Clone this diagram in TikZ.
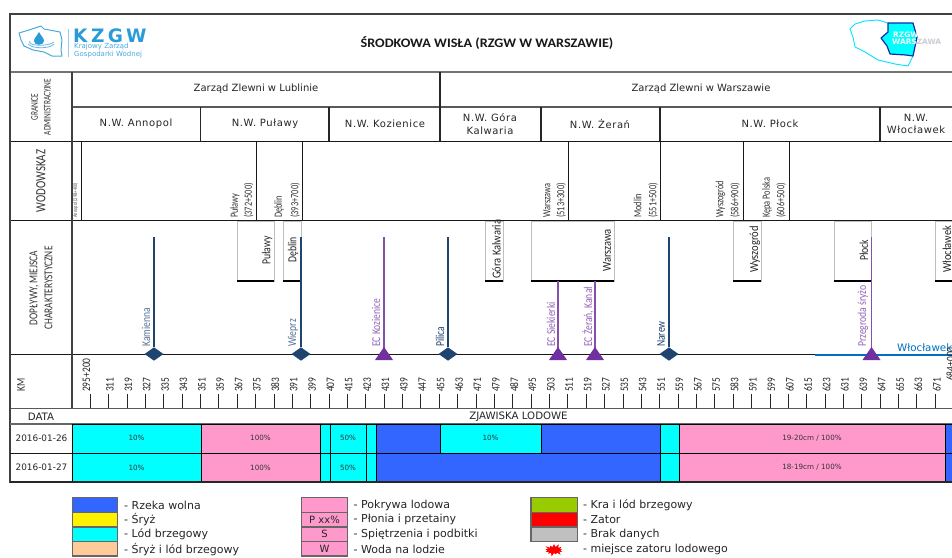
\documentclass[tikz,border=0pt]{standalone}
\usepackage{fontspec}
\setmainfont{DejaVu Sans}
\newfontfamily\narrowf{Carlito}
\usetikzlibrary{shapes.geometric,shapes.symbols}
\definecolor{cyanc}{HTML}{00FFFF}
\definecolor{pinkc}{HTML}{FF99CC}
\definecolor{bluec}{HTML}{3366FF}
\definecolor{peachc}{HTML}{FFCC99}
\definecolor{greenc}{HTML}{99CC00}
\definecolor{grayc}{HTML}{C0C0C0}
\definecolor{navyc}{HTML}{1F4470}
\definecolor{purplec}{HTML}{7030A0}
\definecolor{wlocc}{HTML}{0070C0}
\definecolor{logoc}{HTML}{2A9BD8}
\newcommand{\fsz}[1]{\fontsize{#1}{#1}\selectfont}
\newcommand{\nrw}[2][.85]{\scalebox{#1}[1]{\narrowf #2}}
\tikzset{
  rule/.style={line width=#1,draw=black!75},
  thinrule/.style={line width=1pt,draw=black!90},
  headtxt/.style={font=\fsz{10},text=black!85,align=center,inner sep=0pt},
  nwtxt/.style={font=\fsz{10}\addfontfeature{LetterSpace=6},text=black!85,align=center,inner sep=0pt},
  rotlab/.style={rotate=90,inner sep=0pt,font=\fsz{10},text=black!80,align=center},
  startlab/.style={rotate=90,anchor=west,inner sep=0pt,font=\fsz{11},text=black!80},
  boxlab/.style={rotate=90,anchor=west,inner sep=0pt,font=\fsz{12.2},text=black!85},
  riverlab/.style={rotate=90,anchor=west,inner sep=0pt,font=\fsz{12},text=#1},
  gaugebox/.style={draw=black!25,line width=1pt,fill=white},
  gaugebase/.style={draw=black,line width=2.4pt},
  river/.style={line width=1.3pt,draw=navyc},
  ecline/.style={line width=1.3pt,draw=purplec!85},
  dia/.style={diamond,fill=navyc,inner sep=0pt,minimum width=19pt,minimum height=13.5pt},
  cellbox/.style={draw=black,line width=1pt,fill=#1},
  celltxt/.style={font=\fsz{7.2},text=black!80,inner sep=0pt},
  legbox/.style={draw=black!60,line width=1.3pt,fill=#1},
  legtxt/.style={anchor=west,inner sep=0pt,font=\fsz{11},text=black!85},
  kmlab/.style={rotate=90,anchor=west,inner sep=0pt,font=\fsz{11.5},text=black!85},
}
\begin{document}
\begin{tikzpicture}[x=1pt,y=-1pt]
\useasboundingbox (0,0) rectangle (952,557);
\clip (0,0) rectangle (952,557);
\fill[white] (0,0) rectangle (952,557);

% ---- logo
\draw[logoc!85,line width=1pt,line join=round] (19,33) -- (29,30) -- (41,26) -- (44,29) -- (60,32) -- (62,40) -- (61,50) -- (62,56) -- (52,56) -- (44,52) -- (33,50) -- (24,46) -- (21,40) -- cycle;
\fill[logoc] (39,32) .. controls (37,36) and (34,38) .. (34,41) .. controls (34,46) and (44,46) .. (44,41) .. controls (44,38) and (41,36) .. (39,32) -- cycle;
\draw[logoc!70,line width=.8pt] (30,41) .. controls (26,46) and (48,47) .. (54,42);
\draw[logoc!70,line width=.8pt] (28,44) .. controls (32,49) and (50,49) .. (54,44);
\draw[logoc!50,line width=.8pt] (68,29) -- (68,57);
\node[anchor=west,inner sep=0pt,text=logoc,font=\fsz{18.5}\bfseries] (logoA) at (73,36) {K\kern3.5pt Z\kern3.5pt G\kern3pt W};
\node[anchor=west,inner sep=0pt,text=logoc!85,font=\fsz{7},align=left] (logoB) at (74,50.5) {Krajowy Zarząd\\[.4pt]Gospodarki Wodnej};

% ---- map
\draw[cyanc!90!blue,line width=.9pt,line join=round] (888,23) -- (878,20) -- (865,21) -- (855,24) -- (850,29) -- (853,37) -- (855,47) -- (865,52) -- (878,60) -- (895,64) -- (908,66) -- (913,56);
\draw[navyc!60!blue,line width=1.2pt,fill=cyanc,line join=round] (888,23) -- (913,23) -- (917,37) -- (913,56) -- (906,55) -- (890,54) -- (887,46) -- (881,38) -- (888,32) -- cycle;
\node[anchor=west,inner sep=0pt,text=white,font=\fsz{7.4}\bfseries] (mapA) at (893,35) {RZGW};
\node[anchor=west,inner sep=0pt,text=white,font=\fsz{7.4}\bfseries] (mapB) at (892,42) {WARS\textcolor{blue!20!black!20}{ZAWA}};

% ---- title
\node[inner sep=0pt,font=\narrowf\bfseries\fsz{13},text=black!90] (title) at (487,43) {\scalebox{1.09}[1]{ŚRODKOWA WISŁA (RZGW W WARSZAWIE)}};

% ---- frame rules
\draw[rule=2pt] (9,14) -- (952,14);
\draw[rule=1.5pt,draw=black!55] (10,72) -- (952,72);
\draw[rule=1.2pt,draw=black!65] (72,107) -- (952,107);
\draw[thinrule] (10,141) -- (952,141);
\draw[thinrule] (10,220) -- (952,220);
\draw[thinrule] (10,354.5) -- (952,354.5);
\draw[rule=1.5pt,draw=black!65] (10,408.5) -- (952,408.5);
\draw[rule=1.5pt] (10,14) -- (10,483);
\draw[rule=1.3pt] (72,72) -- (72,408);
\draw[rule=1.1pt,draw=black!85] (440,72) -- (440,141);
\foreach \xx in {200.7,329,541,660,880} \draw[rule=1.1pt,draw=black!85] (\xx,107) -- (\xx,141);
\foreach \xx in {81,256,302,568,660,743,789} \draw[thinrule] (\xx,141) -- (\xx,220);

% ---- left labels
\node[rotlab,font=\fsz{10.2}] (lA) at (41,107) {\nrw[.72]{GRANICE}\\[2.5pt]\nrw[.72]{ADMINISTRACYJNE}};
\node[rotlab] (lB) at (41,181) {\nrw[.78]{\fsz{14}WODOWSKAZ}};
\node[rotlab,font=\fsz{12}] (lC) at (41,288) {\nrw[.78]{DOPŁYWY, MIEJSCA}\\[3pt]\nrw[.78]{CHARAKTERYSTYCZNE}};
\node[rotlab] (lD) at (21,385) {\nrw[.8]{\fsz{12}KM}};
\node[headtxt,font=\fsz{10.2}] (lE) at (41,417) {DATA};
\node[headtxt,font=\fsz{10.2}] (lF) at (518.5,416.5) {ZJAWISKA LODOWE};

% ---- admin headers
\node[headtxt] (h1) at (256,89) {Zarząd Zlewni w Lublinie};
\node[headtxt] (h2) at (701,89) {Zarząd Zlewni w Warszawie};
\node[nwtxt] (n1) at (136,124) {N.W. Annopol};
\node[nwtxt] (n2) at (265,124) {N.W. Puławy};
\node[nwtxt] (n3) at (385,124) {N.W. Kozienice};
\node[nwtxt] (n4) at (490,124) {N.W. Góra\\[2.5pt]Kalwaria};
\node[nwtxt] (n5) at (600,124) {N.W. Żerań};
\node[nwtxt] (n6) at (770,124) {N.W. Płock};
\node[nwtxt] (n7) at (916,124) {N.W.\\[2.5pt]Włocławek};

% ---- gauge labels
\node[startlab,font=\fsz{5.6},text=black!65] (g0) at (75.5,218) {\nrw[.8]{Annopol (298+400)}};
\foreach \nn/\xx/\tt in {g1/235/Puławy,g2/248.5/(372+500),g3/279/Dęblin,g4/295/(393+700),g5/547/Warszawa,g6/561/(513+300),g7/637.5/Modlin,g8/653/(551+500),g9/720.5/Wyszogród,g10/735/(586+900),g11/767/Kępa Polska,g12/781/(606+500)}
  \node[startlab] (\nn) at (\xx,218) {\nrw[.76]{\tt}};

% ---- river labels (under the boxes)
\node[riverlab=navyc!75] (r1) at (146,347) {\nrw[.8]{Kamienna}};
\node[riverlab=navyc!75] (r2) at (293,347) {\nrw[.8]{Wieprz}};
\node[riverlab=purplec!75] (r3) at (376,347) {\nrw[.8]{EC Kozienice}};
\node[riverlab=navyc] (r4) at (440,347) {\nrw[.8]{Pilica}};
\node[riverlab=purplec!75] (r5) at (551,347) {\nrw[.8]{EC Siekierki}};
\node[riverlab=purplec!75] (r6) at (588,347) {\nrw[.8]{EC Żerań, Kanał}};
\node[riverlab=navyc] (r7) at (661,347) {\nrw[.8]{Narew}};
\node[riverlab=purplec!75] (r8) at (863,347) {\nrw[.8]{Przegroda śryżo}};

% ---- gauge boxes
\foreach \aa/\bb in {237/274,283/301,485/503,531/614,733/761,834/871,935/960}{
  \draw[gaugebox] (\aa,221) rectangle (\bb,281);
  \draw[gaugebase] (\aa,281) -- (\bb,281);
}
\node[boxlab] (b1) at (267,265) {\nrw[.8]{Puławy}};
\node[boxlab] (b2) at (293,263) {\nrw[.8]{Dęblin}};
\node[boxlab] (b3) at (496.5,279) {\nrw[.86]{Góra Kalwaria}};
\node[boxlab] (b4) at (607,272) {\nrw[.86]{Warszawa}};
\node[boxlab] (b5) at (755,273) {\nrw[.86]{Wyszogród}};
\node[boxlab] (b6) at (864,261) {\nrw[.8]{Płock}};
\node[boxlab] (b7) at (947,273) {\nrw[.86]{Włocławek}};

% ---- Wloclawek reservoir
\coordinate (wa) at (815,355);
\coordinate (wb) at (952,355);
\draw[wlocc,line width=2.4pt] (wa) -- (wb);
\node[inner sep=0pt,anchor=west,text=wlocc,font=\fsz{10.3}] (wl) at (897,348) {Włocławek};

% ---- rivers + markers
\foreach \nn/\xx in {kam/154,wie/301,pil/448,nar/669}{
  \coordinate (\nn T) at (\xx,237);
  \node[dia] (\nn M) at (\xx,354) {};
  \draw[river] (\nn T) -- (\nn M);
}
\foreach \nn/\xx/\yy in {koz/384/237,sie/558/281,zer/595/281,prz/871.5/237}{
  \coordinate (\nn T) at (\xx,\yy);
  \coordinate (\nn M) at (\xx,349);
  \draw[ecline] (\nn T) -- (\nn M);
  \fill[purplec] (\xx,347) -- (\xx+9,360) -- (\xx-9,360) -- cycle;
}

% ---- km scale
\coordinate (t0a) at (90.3,394);
\coordinate (t0b) at (90.3,408);
\draw[line width=1pt,draw=black!85] (t0a) -- (t0b);
\node[kmlab] (k0) at (86.5,392) {\nrw[.82]{295+200}};
\foreach \i in {0,...,45}{
  \pgfmathsetmacro{\tx}{108.7+18.37*\i}
  \pgfmathtruncatemacro{\km}{311+8*\i}
  \coordinate (ta\i) at (\tx,394);
  \coordinate (tb\i) at (\tx,408);
  \draw[line width=1pt,draw=black!85] (ta\i) -- (tb\i);
  \node[kmlab] (kl\i) at (\tx+1.3,392) {\nrw[.82]{\km}};
}
\node[kmlab] (kend) at (950.5,381) {\nrw[.82]{684+000}};

% ---- table
\draw[rule=1.3pt,draw=black!60] (10,424) -- (952,424);
\foreach \aa/\bb/\cc/\nn/\tt in {72/201/cyanc/a1/10\%,201/320/pinkc/a2/100\%,320/330/cyanc/a3/,330/366/cyanc/a4/50\%,366/376/cyanc/a5/,376/440/bluec/a6/,440/541/cyanc/a7/10\%,541/660/bluec/a8/,660/679/cyanc/a9/,679/945/pinkc/a10/{19-20cm / 100\%},945/960/bluec/a11/}{
  \draw[cellbox=\cc] (\aa,424) rectangle (\bb,453);
  \node[celltxt] (\nn) at ({(\aa+\bb)/2},438) {\tt};
}
\foreach \aa/\bb/\cc/\nn/\tt in {72/201/cyanc/c1/10\%,201/320/pinkc/c2/100\%,320/330/cyanc/c3/,330/366/cyanc/c4/50\%,366/376/cyanc/c5/,376/660/bluec/c6/,660/679/cyanc/c7/,679/945/pinkc/c8/{18-19cm / 100\%},945/960/bluec/c9/}{
  \draw[cellbox=\cc] (\aa,453) rectangle (\bb,482);
  \node[celltxt] (\nn) at ({(\aa+\bb)/2},467.5) {\tt};
}
\draw[rule=1.5pt,draw=black!85] (10,482) -- (952,482);
\draw[thinrule] (10,453) -- (72,453);
\node[headtxt,font=\fsz{8.9}] (d1) at (41.5,438) {2016-01-26};
\node[headtxt,font=\fsz{8.9}] (d2) at (41.5,467.5) {2016-01-27};

% ---- legend
\foreach \aa/\bb/\cc in {497.5/512.2/bluec,512.2/527/yellow,527/541.7/cyanc,541.7/556/peachc}
  {\draw[legbox=\cc] (72.5,\aa) rectangle (117.5,\bb);}
\foreach \aa/\bb/\cc/\nn/\tt in {497.5/512.2/pinkc/q1/,512.2/527/pinkc/q2/P xx\%,527/541.7/pinkc/q3/S,541.7/556/pinkc/q4/W}
  {\draw[legbox=\cc] (301.5,\aa) rectangle (347.5,\bb);
   \node[inner sep=0pt,font=\fsz{10},text=black!85] (\nn) at (324.5,{(\aa+\bb)/2}) {\tt};}
\foreach \aa/\bb/\cc in {497.5/512.2/greenc,512.2/527/red,527/541.7/grayc}
  {\draw[legbox=\cc] (531,\aa) rectangle (577.5,\bb);}
\node[legtxt] (t1) at (124,505) {- Rzeka wolna};
\node[legtxt] (t2) at (124,519.5) {- Śryż};
\node[legtxt] (t3) at (124,534.5) {- Lód brzegowy};
\node[legtxt] (t4) at (124,549.5) {- Śryż i lód brzegowy};
\node[legtxt] (t5) at (353.5,505) {- Pokrywa lodowa};
\node[legtxt] (t6) at (353.5,519.5) {- Płonia i przetainy};
\node[legtxt] (t7) at (353.5,534.5) {- Spiętrzenia i podbitki};
\node[legtxt] (t8) at (353.5,549.5) {- Woda na lodzie};
\node[legtxt] (t9) at (583,505) {- Kra i lód brzegowy};
\node[legtxt] (t10) at (583,519.5) {- Zator};
\node[legtxt] (t11) at (583,534.5) {- Brak danych};
\node[legtxt] (t12) at (583,549.5) {- miejsce zatoru lodowego};
\node[starburst,starburst points=13,starburst point height=4pt,fill=red,inner sep=0pt,minimum width=21pt,minimum height=14pt] (jam) at (554,550) {};
\end{tikzpicture}
\end{document}
